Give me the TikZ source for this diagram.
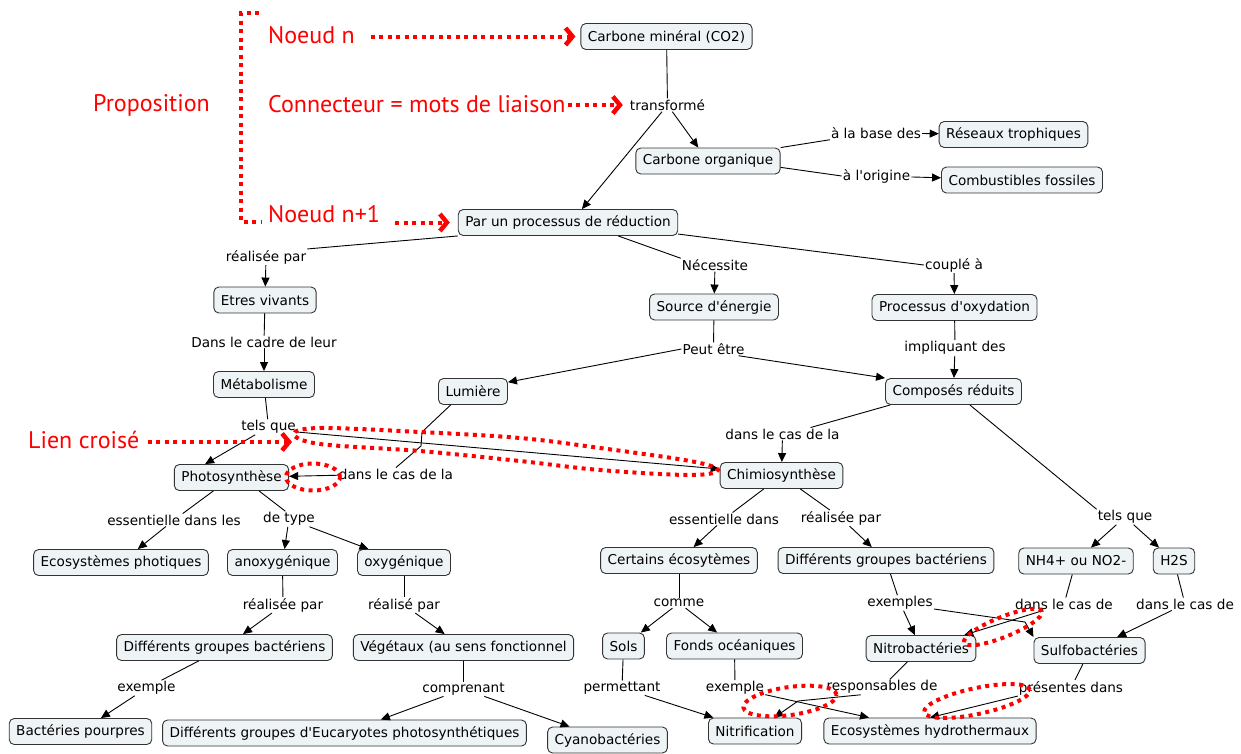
\documentclass[tikz,border=0pt]{standalone}
\usepackage{fontspec}
\setmainfont{DejaVu Sans}[Ligatures=TeXOff]
\newfontfamily\redfont{PT Sans}
\usetikzlibrary{arrows.meta,calc}
\definecolor{nodefill}{RGB}{238,244,246}
\definecolor{nodedraw}{RGB}{51,51,51}
\definecolor{annot}{RGB}{255,0,0}
\begin{document}
\begin{tikzpicture}[x=1pt,y=-1pt,
  concept/.style={draw=nodedraw, fill=nodefill, rounded corners=5pt, line width=0.9pt,
    inner xsep=7pt, inner ysep=0pt, minimum height=26pt, font=\fontsize{13.6}{16}\selectfont},
  link/.style={inner sep=1pt, font=\fontsize{13.6}{16}\selectfont},
  conn/.style={line width=0.9pt, draw=black},
  arr/.style={conn, -{Triangle[length=9pt,width=8pt]}},
  reddot/.style={draw=annot, line width=4pt, dash pattern=on 4pt off 4.5pt},
  redarrow/.style={reddot, -{Straight Barb[length=7pt,width=17pt,line width=4.5pt]}},
  redtext/.style={text=annot, inner sep=0pt, font=\redfont\fontsize{24}{28}\selectfont, anchor=base west}
]
\useasboundingbox (0,0) rectangle (1241,753);

% concepts and linking phrases
\node[concept] (co2) at (666.5,36.5) {Carbone minéral (CO2)};
\node[link] (t1) at (667.5,105) {transformé};
\node[concept] (corg) at (708,161) {Carbone organique};
\node[concept] (reseaux) at (1013.5,134.5) {Réseaux trophiques};
\node[concept] (comb) at (1022,180) {Combustibles fossiles};
\node[link] (base) at (876,133) {à la base des};
\node[link] (orig) at (876.5,176) {à l'origine};
\node[concept] (pr) at (568,222.5) {Par un processus de réduction};
\node[link] (rp1) at (266,257) {réalisée par};
\node[link] (nec) at (715,265) {Nécessite};
\node[link] (cp) at (954,265) {couplé à};
\node[concept] (ev) at (265,300) {Etres vivants};
\node[concept] (se) at (714,307) {Source d'énergie};
\node[concept] (po) at (954.5,307.5) {Processus d'oxydation};
\node[link] (dcl) at (264,342) {Dans le cadre de leur};
\node[link] (pe) at (713.5,349) {Peut être};
\node[link] (imp) at (955,348) {impliquant des};
\node[concept] (meta) at (264,384.5) {Métabolisme};
\node[concept] (lum) at (473,391.5) {Lumière};
\node[concept] (cr) at (953.5,391.5) {Composés réduits};
\node[link] (tq1) at (268.5,427) {tels que};
\node[link] (dl2) at (782.5,434) {dans le cas de la};
\node[concept] (photo) at (231.5,477.5) {Photosynthèse};
\node[link] (dl1) at (396,474) {dans le cas de la};
\node[concept] (chim) at (781.5,475.5) {Chimiosynthèse};
\node[link] (ess1) at (174,520) {essentielle dans les};
\node[link] (dt) at (289,519) {de type};
\node[link] (ess2) at (724,519) {essentielle dans};
\node[link] (rp4) at (841,518) {réalisée par};
\node[link] (tq2) at (1125,517) {tels que};
\node[concept] (ecop) at (121,562.5) {Ecosystèmes photiques};
\node[concept] (anox) at (282.5,562.5) {anoxygénique};
\node[concept] (oxy) at (404,562.5) {oxygénique};
\node[concept] (cert) at (679,560.5) {Certains écosytèmes};
\node[concept] (dgb2) at (886,560.5) {Différents groupes bactériens};
\node[concept] (nh4) at (1076,561) {NH4+ ou NO2-};
\node[concept] (h2s) at (1174,561) {H2S};
\node[link] (rp2) at (283,605) {réalisée par};
\node[link] (rp3) at (404,605) {réalisé par};
\node[link] (comme) at (679,603) {comme};
\node[link] (exs) at (900,603) {exemples};
\node[link] (dlc1) at (1064,604) {dans le cas de};
\node[link] (dlc2) at (1185,604) {dans le cas de};
\node[concept] (dgb1) at (224.5,647.5) {Différents groupes bactériens};
\node[concept] (veg) at (463.5,647.5) {Végétaux (au sens fonctionnel};
\node[concept] (sols) at (623.5,646) {Sols};
\node[concept] (fonds) at (734.5,646) {Fonds océaniques};
\node[concept] (nitro) at (921,648.5) {Nitrobactéries};
\node[concept] (sulfo) at (1089.5,650.5) {Sulfobactéries};
\node[link] (ex1) at (146.5,688) {exemple};
\node[link] (comp) at (463.5,689) {comprenant};
\node[link] (perm) at (622,688) {permettant};
\node[link] (ex2) at (735,688) {exemple};
\node[link] (resp) at (882,687) {responsables de};
\node[link] (pres) at (1071,688) {présentes dans};
\node[concept] (bp) at (80.5,731.5) {Bactéries pourpres};
\node[concept] (euk) at (344.5,733) {Différents groupes d'Eucaryotes photosynthétiques};
\node[concept] (cyano) at (607.5,740) {Cyanobactéries};
\node[concept] (nitrif) at (755,731) {Nitrification};
\node[concept] (hydro) at (930,731) {Ecosystèmes hydrothermaux};

% bend points
\coordinate (k1) at (422,432);
\coordinate (k2) at (421,446);
\coordinate (k3) at (1025,622);
\coordinate (k4) at (798,701);

% connectors
\draw[conn] (co2) -- (t1);
\draw[arr] (t1) -- (corg);
\draw[arr] (t1) -- (pr.44);
\draw[conn] (corg.north east) -- (base.south west);
\draw[arr] (base) -- (reseaux);
\draw[conn] (corg.-5) -- (orig.west);
\draw[arr] (orig) -- (comb);
\draw[conn] (pr.south west) -- (rp1.north east);
\draw[arr] (rp1) -- (ev);
\draw[conn] (pr.-15) -- (nec.north west);
\draw[arr] (nec) -- (se);
\draw[conn] (pr.-6) -- (cp.west);
\draw[arr] (cp) -- (po);
\draw[conn] (ev) -- (dcl);
\draw[arr] (dcl) -- (meta);
\draw[conn] (se) -- (pe);
\draw[arr] (pe.west) -- (lum.15);
\draw[arr] (pe.-15) -- (cr.north west);
\draw[conn] (po) -- (imp);
\draw[arr] (imp) -- (cr);
\draw[conn] (meta) -- (tq1);
\draw[arr] (tq1) -- (photo.153);
\draw[arr] (tq1.-10) -- (chim.174);
\draw[conn] (cr.192) -- (dl2.13);
\draw[arr] (dl2) -- (chim);
\draw[conn] (lum.211) -- (k1) -- (k2) -- (dl1.north);
\draw[arr] (dl1) -- (photo);
\draw[conn] (cr) -- (tq2.north west);
\draw[arr] (tq2) -- (nh4);
\draw[arr] (tq2) -- (h2s);
\draw[conn] (photo) -- (ess1);
\draw[arr] (ess1) -- (ecop);
\draw[conn] (photo.-26) -- (dt.115);
\draw[arr] (dt) -- (anox);
\draw[arr] (dt) -- (oxy);
\draw[conn] (anox) -- (rp2);
\draw[arr] (rp2) -- (dgb1);
\draw[conn] (oxy) -- (rp3);
\draw[arr] (rp3) -- (veg);
\draw[conn] (dgb1) -- (ex1);
\draw[arr] (ex1) -- (bp);
\draw[conn] (veg) -- (comp);
\draw[arr] (comp) -- (euk);
\draw[arr] (comp) -- (cyano);
\draw[conn] (chim) -- (ess2);
\draw[arr] (ess2) -- (cert);
\draw[conn] (chim) -- (rp4);
\draw[arr] (rp4) -- (dgb2);
\draw[conn] (cert) -- (comme);
\draw[arr] (comme) -- (sols);
\draw[arr] (comme) -- (fonds);
\draw[conn] (dgb2) -- (exs);
\draw[arr] (exs) -- (nitro);
\draw[arr] (exs.-10) -- (k3) -- (sulfo.north west);
\draw[conn] (nh4) -- (dlc1);
\draw[arr] (dlc1) -- (nitro);
\draw[conn] (h2s) -- (dlc2);
\draw[arr] (dlc2) -- (sulfo);
\draw[conn] (sols) -- (perm);
\draw[arr] (perm) -- (nitrif);
\draw[conn] (fonds) -- (ex2);
\draw[arr] (ex2) -- (hydro);
\draw[conn] (nitro) -- (resp);
\draw[arr] (resp.200) -- (k4) -- (nitrif);
\draw[conn] (sulfo) -- (pres);
\draw[arr] (pres.south west) -- (hydro.north);

% red annotations
\node[redtext] (prop) at (93,111) {Proposition};
\node[redtext] (nn) at (268,43) {Noeud n};
\node[redtext] (cx) at (268,112) {Connecteur = mots de liaison};
\node[redtext] (nn1) at (268,222) {Noeud n+1};
\node[redtext] (lc) at (28,448) {Lien croisé};
\coordinate (lctip) at (293,442);

\draw[reddot] (259,13) -- (241,13) -- (241,222) -- (261,222);
\draw[redarrow, shorten <=16pt, shorten >=5pt] (nn.east |- co2.west) -- (co2.west);
\draw[redarrow, shorten <=2pt, shorten >=6pt] (cx.east |- t1.west) -- (t1.west);
\draw[redarrow, shorten <=15pt, shorten >=8pt] (nn1.east |- pr.west) -- (pr.west);
\draw[redarrow, shorten <=8pt, shorten >=1pt] (lc.east |- lctip) -- (lctip);

\draw[reddot] plot[smooth cycle, tension=0.6] coordinates {(294,434) (320,428) (420,432) (520,438) (600,448) (690,461) (718,470) (690,475) (600,470) (520,461) (420,451) (320,444)};
\draw[reddot] (313,477) ellipse [x radius=27pt, y radius=13.5pt];
\draw[reddot, rotate around={22:(1003,627)}] (1003,627) ellipse [x radius=42pt, y radius=10pt];
\draw[reddot, rotate around={8:(790,701)}] (790,701) ellipse [x radius=47pt, y radius=14pt];
\draw[reddot, rotate around={12:(977,701)}] (977,701) ellipse [x radius=54pt, y radius=13pt];
\end{tikzpicture}
\end{document}
